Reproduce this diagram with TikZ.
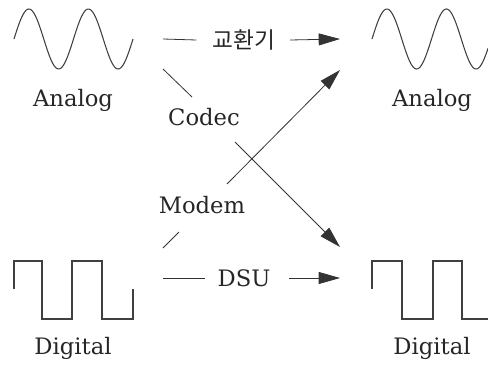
\documentclass[tikz,border=0pt]{standalone}
\usepackage{fontspec}
\setmainfont{DejaVu Serif}
\newfontfamily\krfont{Noto Sans CJK KR}
\usetikzlibrary{arrows.meta}
\tikzset{
    lbl/.style = {font=\fontsize{17}{19}\selectfont, text=black!85, inner sep=0pt},
    link/.style = {draw=black!80, line width=0.6pt},
    arr/.style = {link, -{Triangle[length=16pt, width=9pt]}},
    wave/.style = {draw=black!75, line width=0.8pt}
}

\begin{document}
\begin{tikzpicture}[x=0.75pt, y=-0.75pt]
    \useasboundingbox (0,0) rectangle (488,364);
    % signals
    \draw[wave] plot[domain=0:119, samples=90, smooth] ({14+\x}, {39-30*sin(\x*6.05)});
    \draw[wave] plot[domain=0:116, samples=90, smooth] ({372+\x}, {39-30*sin(\x*6.05)});
    \draw[wave] (14,289) -- (14,261) -- (42,261) -- (42,319) -- (72,319) -- (72,261)
        -- (102,261) -- (102,319) -- (133,319) -- (133,289);
    \draw[wave] (372,289) -- (372,261) -- (402,261) -- (402,319) -- (433,319) -- (433,261)
        -- (462,261) -- (462,319) -- (488,319);
    % labels
    \node[lbl] (anaL) at (73,100) {Analog};
    \node[lbl] (anaR) at (432,100) {Analog};
    \node[lbl] (digL) at (73,348) {Digital};
    \node[lbl] (digR) at (432,348) {Digital};
    \node[lbl] (codec) at (204,117) {Codec};
    \node[lbl] (modem) at (202,205) {Modem};
    \node[lbl, font=\fontsize{17}{19}\krfont] (sw) at (244,40) {교환기};
    \node[lbl] (dsu) at (244,278) {DSU};
    % ends
    \coordinate (swIn) at (163,39);
    \coordinate (swOut) at (340,39);
    \coordinate (dsuIn) at (163,278);
    \coordinate (dsuOut) at (340,278);
    \coordinate (cdIn) at (163,69);
    \coordinate (cdOut) at (340,247);
    \coordinate (mdIn) at (163,248);
    \coordinate (mdOut) at (340,70);
    % links
    \draw[link] (swIn) -- ([xshift=-12pt]sw.west);
    \draw[arr] ([xshift=11pt]sw.east) -- (swOut);
    \draw[link] (dsuIn) -- ([xshift=-9pt]dsu.west);
    \draw[arr] ([xshift=14pt]dsu.east) -- (dsuOut);
    \draw[link] (cdIn) -- (192,97);
    \draw[arr] (235,142) -- (cdOut);
    \draw[link] (mdIn) -- (179,232);
    \draw[arr] (227,184) -- (mdOut);
\end{tikzpicture}
\end{document}
